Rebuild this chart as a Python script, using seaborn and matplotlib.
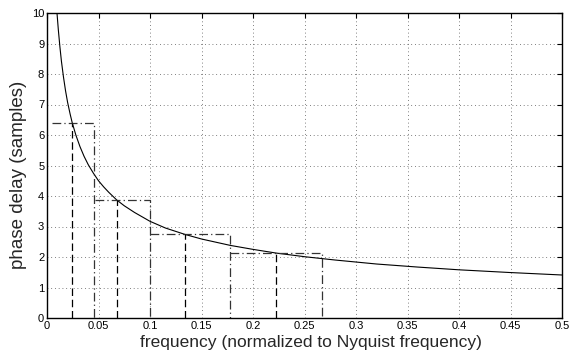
import matplotlib
matplotlib.use("Agg")
import matplotlib.pyplot as plt
import seaborn as sns
import pandas as pd
import numpy as np

# curve
freq = [0.0097, 0.011, 0.0125, 0.014, 0.016, 0.018, 0.02, 0.0225, 0.0245, 0.028,
        0.032, 0.036, 0.04, 0.045, 0.05, 0.055, 0.06, 0.0677, 0.075, 0.085,
        0.1, 0.115, 0.134, 0.15, 0.178, 0.2, 0.2223, 0.25, 0.28, 0.32,
        0.36, 0.4, 0.45, 0.5]
delay = [10.0, 9.45, 8.9, 8.42, 7.9, 7.45, 7.07, 6.68, 6.4, 6.0,
         5.62, 5.3, 5.03, 4.75, 4.5, 4.3, 4.12, 3.87, 3.68, 3.46,
         3.17, 2.95, 2.74, 2.59, 2.38, 2.25, 2.13, 2.01, 1.9, 1.77,
         1.67, 1.58, 1.49, 1.41]

# bands (dash-dot staircase) and centre frequencies (dashed)
band_left = [0.0045, 0.0466, 0.1, 0.178]
band_right = [0.0455, 0.1, 0.178, 0.267]
band_center = [0.0245, 0.0677, 0.134, 0.2223]
band_delay = [6.4, 3.87, 2.74, 2.13]

xticks = [0, 0.05, 0.1, 0.15, 0.2, 0.25, 0.3, 0.35, 0.4, 0.45, 0.5]
xticklabels = ["0", "0.05", "0.1", "0.15", "0.2", "0.25", "0.3", "0.35", "0.4", "0.45", "0.5"]
yticks = list(range(0, 11))

sns.set_theme(style="white")
plt.rcParams['font.family'] = ['Liberation Sans', 'DejaVu Sans']

fig, ax = plt.subplots(figsize=(5.69, 3.53), dpi=100)
fig.subplots_adjust(left=47/569, right=562/569, bottom=1-318/353, top=1-13/353)

df = pd.DataFrame({"f": freq, "d": delay})
sns.lineplot(data=df, x="f", y="d", ax=ax, color="black", lw=0.8, sort=False,
             estimator=None)

for l, r, c, h in zip(band_left, band_right, band_center, band_delay):
    ax.plot([l, r, r], [h, h, 0], color="#333333", lw=0.9, linestyle=(0, (7, 2.5, 1, 2.5)))
    ax.plot([c, c], [0, h], color="black", lw=0.9, linestyle=(0, (6, 3)))

ax.set_xlim(0, 0.5)
ax.set_ylim(0, 10)
ax.set_xticks(xticks)
ax.set_xticklabels(xticklabels)
ax.set_yticks(yticks)
ax.grid(True, color="#555555", linestyle=(0, (1, 3.5)), lw=0.6)
ax.tick_params(direction="in", length=3.5, width=0.8, top=True, right=True,
               labelsize=8, colors="black", pad=2)
for s in ax.spines.values():
    s.set_color("black")
    s.set_linewidth(1.0)
ax.set_xlabel("frequency (normalized to Nyquist frequency)", fontsize=12.5)
ax.set_ylabel("phase delay (samples)", fontsize=13.5)
ax.xaxis.set_label_coords(0.513, -0.055)
ax.yaxis.set_label_coords(-0.039, 0.47)
fig.patch.set_facecolor("white")
fig.savefig("out.png", dpi=100)
